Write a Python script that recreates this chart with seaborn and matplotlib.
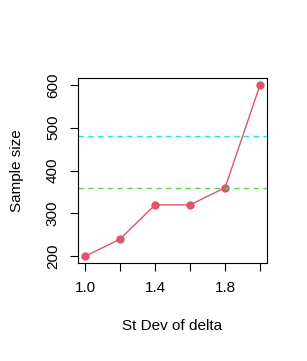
import matplotlib
matplotlib.use("Agg")
import matplotlib.pyplot as plt
import seaborn as sns
import pandas as pd

# data
sd_delta = [1.0, 1.2, 1.4, 1.6, 1.8, 2.0]
sample_size = [200, 240, 320, 320, 360, 600]
ref_cyan = 480
ref_green = 360

df = pd.DataFrame({"sd": sd_delta, "n": sample_size})

sns.set_style("ticks")
plt.rcParams["font.family"] = ["Liberation Sans", "DejaVu Sans"]
plt.rcParams["text.color"] = "black"
plt.rcParams["axes.labelcolor"] = "black"

fig = plt.figure(figsize=(3.07, 3.61), dpi=100)
ax = fig.add_axes([0.254, 0.271, 0.616, 0.513])

sns.lineplot(data=df, x="sd", y="n", ax=ax, color="#DF536B", lw=1,
             marker="o", markersize=6, markeredgewidth=0)
ax.axhline(ref_cyan, color="#28E2E5", ls=(0, (4, 3)), lw=1)
ax.axhline(ref_green, color="#61D04F", ls=(0, (4, 3)), lw=1)

ax.set_xlim(0.96, 2.04)
ax.set_ylim(184, 616)
ax.set_xticks(sd_delta)
ax.set_xticklabels(["1.0", "", "1.4", "", "1.8", ""])
ax.set_yticks([200, 300, 400, 500, 600])
ax.set_yticklabels(["200", "300", "400", "500", "600"], rotation=90, va="center")
ax.tick_params(direction="out", length=6, width=0.8, color="black",
               labelsize=11, pad=7, labelcolor="black")

for s in ax.spines.values():
    s.set_visible(True)
    s.set_color("black")
    s.set_linewidth(0.8)

ax.set_xlabel("St Dev of delta", fontsize=11, labelpad=17, color="black")
ax.set_ylabel("Sample size", fontsize=11, labelpad=16, color="black")

fig.savefig("out.png", dpi=100)
